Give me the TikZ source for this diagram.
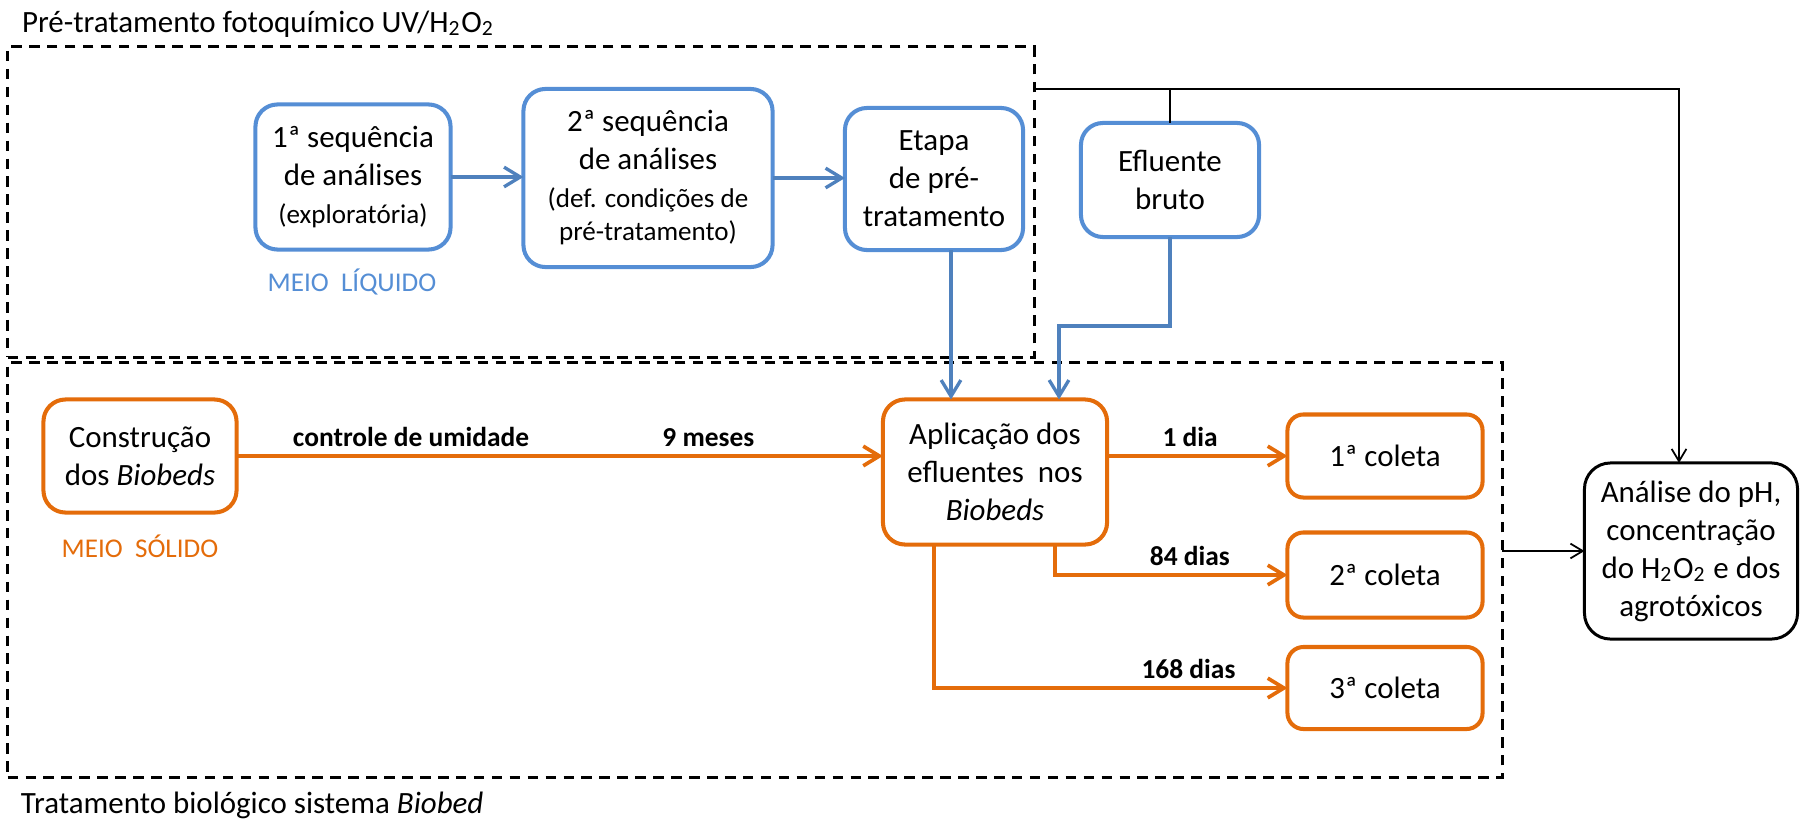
\documentclass[tikz,border=0pt]{standalone}
\usepackage{fontspec}
\setmainfont{Carlito}
\usetikzlibrary{arrows.meta,calc}

\definecolor{boxblue}{RGB}{85,142,213}
\definecolor{lineblue}{RGB}{79,129,189}
\definecolor{boxorange}{RGB}{228,108,10}

\newcommand{\diagfont}{\fontsize{8.8pt}{10.8pt}\selectfont}
\newcommand{\notefont}{\fontsize{7.7pt}{9.4pt}\selectfont}
\newcommand{\tagfont}{\fontsize{7.8pt}{9.4pt}\selectfont\bfseries}

\begin{document}
\begin{tikzpicture}[x=0.01cm,y=-0.01cm,
    every node/.style={outer sep=0pt,inner sep=0pt,font=\diagfont},
    >={Straight Barb[length=4.6pt,width=5.6pt]}]

\tikzstyle{group}=[draw,line width=0.9pt,dash pattern=on 3pt off 2.1pt]
\tikzstyle{bluebox}=[draw=boxblue,line width=1.15pt,rounded corners=0.22cm,align=center]
\tikzstyle{orangebox}=[draw=boxorange,line width=1.15pt,rounded corners=0.22cm,align=center]
\tikzstyle{resultbox}=[draw,line width=0.85pt,rounded corners=0.26cm,align=center]
\tikzstyle{blueflow}=[->,lineblue,line width=0.95pt]
\tikzstyle{orangeflow}=[->,boxorange,line width=1.05pt]
\tikzstyle{thinflow}=[black,line width=0.5pt,>={Straight Barb[length=3.5pt,width=4.2pt]}]
\tikzstyle{steptag}=[font=\tagfont,text=black,above,inner sep=0.09cm]

\useasboundingbox (0,0) rectangle (1800,821);

% the two stages
\node (foto) [group,minimum width=10.26cm,minimum height=3.10cm] at (521,202) {};
\node (bio) [group,minimum width=14.94cm,minimum height=4.14cm] at (755,570) {};
\node (fototitle) [anchor=base west] at (22,32) {Pré-tratamento fotoquímico UV/H\textsubscript{2}O\textsubscript{2}};
\node (biotitle) [anchor=base west] at (21,813) {Tratamento biológico sistema \textit{Biobed}};

% liquid phase
\node (seq1) [bluebox,minimum width=1.95cm,minimum height=1.45cm] at (353,177) {1ª sequência\\de análises\\{\notefont(exploratória)}};
\node (seq2) [bluebox,minimum width=2.49cm,minimum height=1.78cm] at (648,178) {2ª sequência\\de análises\\{\notefont(def. condições de}\\[-1.4pt]{\notefont pré-tratamento)}};
\node (etapa) [bluebox,minimum width=1.78cm,minimum height=1.42cm] at (934,179) {Etapa\\de pré-\\tratamento};
\node (efluente) [bluebox,minimum width=1.78cm,minimum height=1.14cm] at (1170,180) {Efluente\\bruto};
\node (liquido) [text=boxblue,font=\notefont,anchor=base] at (352,291) {MEIO\ \ LÍQUIDO};

% solid phase
\node (constr) [orangebox,minimum width=1.93cm,minimum height=1.13cm] at (140,456) {Construção\\dos \textit{Biobeds}};
\node (solido) [text=boxorange,font=\notefont,anchor=base] at (140,557) {MEIO\ \ SÓLIDO};
\node (aplic) [orangebox,minimum width=2.24cm,minimum height=1.45cm] at (995,472) {Aplicação dos\\efluentes\ \ nos\\\textit{Biobeds}};
\node (col1) [orangebox,rounded corners=0.16cm,minimum width=1.95cm,minimum height=0.83cm] at (1385,456) {1ª coleta};
\node (col2) [orangebox,rounded corners=0.16cm,minimum width=1.95cm,minimum height=0.85cm] at (1385,575) {2ª coleta};
\node (col3) [orangebox,rounded corners=0.16cm,minimum width=1.95cm,minimum height=0.82cm] at (1385,688) {3ª coleta};

\node (analise) [resultbox,minimum width=2.13cm,minimum height=1.76cm] at (1691,551) {Análise do pH,\\concentração\\do H\textsubscript{2}O\textsubscript{2} e dos\\agrotóxicos};

\coordinate (dropA) at (951,0);
\coordinate (bendB) at (1059,326);
\coordinate (dropC) at (1055,0);
\coordinate (dropD) at (934,0);
\coordinate (tapA) at (1034,89);
\coordinate (dropE) at (1679,0);

% arrows
\draw[blueflow] (seq1.east) -- (seq1.east -| seq2.west);
\draw[blueflow] (seq2.east) -- (seq2.east -| etapa.west);
\draw[blueflow] (etapa.south -| dropA) -- (aplic.north -| dropA);
\draw[blueflow] (efluente.south) |- (bendB) -- (aplic.north -| bendB);

\draw[orangeflow] (constr.east) -- node[steptag,pos=0.27]{controle de umidade} node[steptag,pos=0.73]{9 meses} (constr.east -| aplic.west);
\draw[orangeflow] (aplic.east |- col1.west) -- node[steptag,pos=0.46]{1 dia} (col1.west);
\draw[orangeflow] (aplic.south -| dropC) |- node[steptag,pos=0.79]{84 dias} (col2.west);
\draw[orangeflow] (aplic.south -| dropD) |- node[steptag,pos=0.86]{168 dias} (col3.west);

\draw[thinflow,->] (tapA) -| (analise.north -| dropE);
\draw[thinflow] (efluente.north) -- (efluente.north |- tapA);
\draw[thinflow,->] (bio.east |- analise.west) -- (analise.west);
\end{tikzpicture}
\end{document}
